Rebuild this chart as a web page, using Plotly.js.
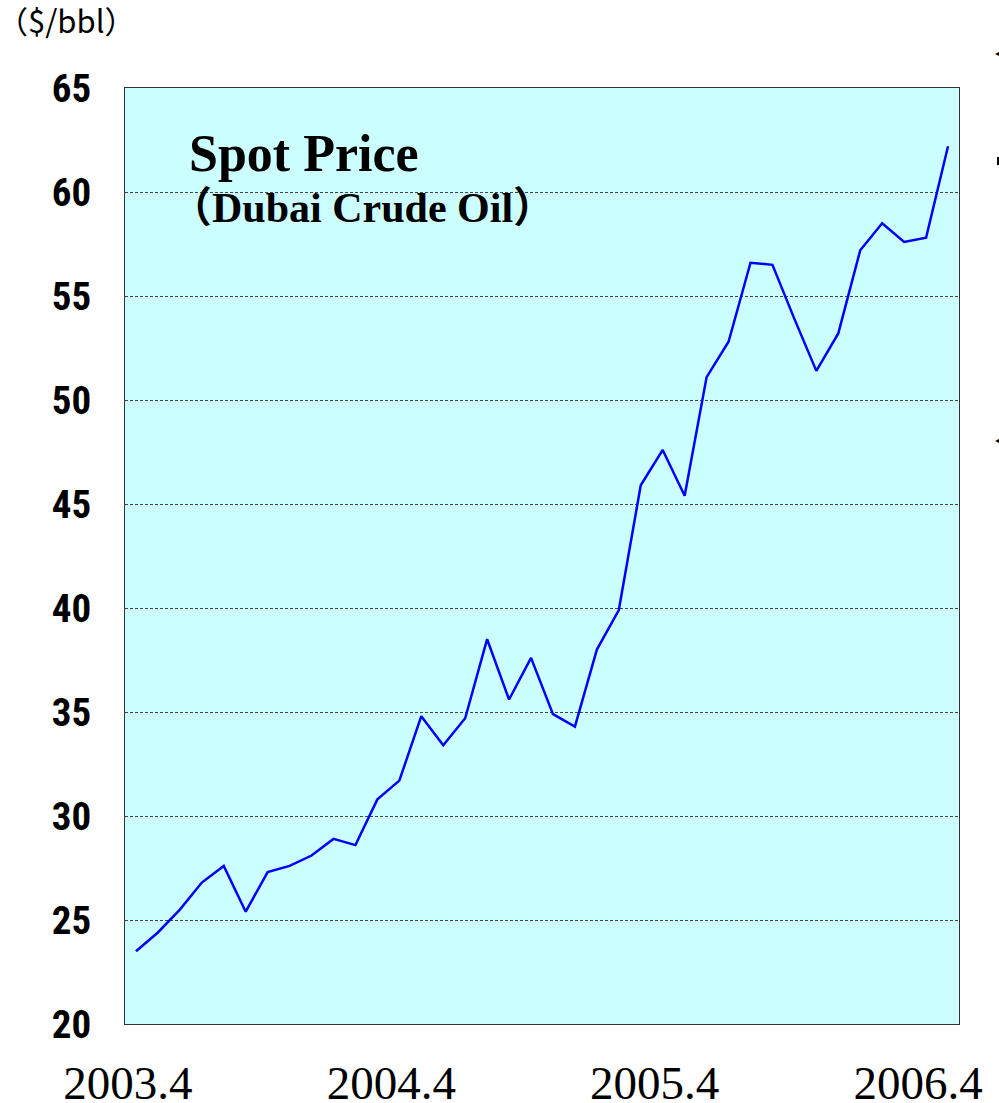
<!DOCTYPE html>
<html>
<head>
<meta charset="utf-8">
<script src="https://cdn.plot.ly/plotly-3.0.1.min.js"></script>
<style>
html,body{margin:0;padding:0;background:#fff;}
#chart{width:999px;height:1103px;}
#chart .ytick text{font-stretch:condensed;}
</style>
</head>
<body>
<div id="chart"></div>
<script>
// Monthly categories
var months = [
  "2003.4","2003.5","2003.6","2003.7","2003.8","2003.9","2003.10","2003.11","2003.12",
  "2004.1","2004.2","2004.3","2004.4","2004.5","2004.6","2004.7","2004.8","2004.9","2004.10","2004.11","2004.12",
  "2005.1","2005.2","2005.3","2005.4","2005.5","2005.6","2005.7","2005.8","2005.9","2005.10","2005.11","2005.12",
  "2006.1","2006.2","2006.3","2006.4","2006.5"
];
// Dubai crude oil spot price ($/bbl)
var dubaiPrice = [
  23.5, 24.4, 25.5, 26.8, 27.6, 25.4, 27.3, 27.6, 28.1,
  28.9, 28.6, 30.8, 31.7, 34.8, 33.4, 34.7, 38.5, 35.6, 37.6, 34.9, 34.3,
  38.0, 39.9, 45.9, 47.6, 45.4, 51.1, 52.8, 56.6, 56.5, 53.9, 51.4, 53.2,
  57.2, 58.5, 57.6, 57.8, 62.2
];
// Tick labels shown on the x axis
var xTickLabels = ["2003.4","2004.4","2005.4","2006.4"];
var yTickValues = [20, 25, 30, 35, 40, 45, 50, 55, 60, 65];

var trace = {
  x: months,
  y: dubaiPrice,
  type: 'scatter',
  mode: 'lines',
  line: {color: '#0000FF', width: 2.5},
  hoverinfo: 'x+y'
};

var layout = {
  width: 999,
  height: 1103,
  margin: {l: 125, r: 40, t: 88, b: 79},
  paper_bgcolor: '#FFFFFF',
  plot_bgcolor: '#CCFFFF',
  showlegend: false,
  xaxis: {
    type: 'category',
    range: [-0.5, months.length - 0.5],
    tickmode: 'array',
    tickvals: xTickLabels,
    ticktext: xTickLabels,
    ticks: '',
    showgrid: false,
    zeroline: false,
    showline: true,
    mirror: true,
    linecolor: '#333333',
    linewidth: 1,
    tickangle: 0,
    ticklabeloverflow: 'allow',
    ticklabelstandoff: 18,
    ticklabelshift: -8,
    tickfont: {family: 'Liberation Serif, Times New Roman, serif', size: 47, color: '#000000'},
    fixedrange: true
  },
  yaxis: {
    range: [20, 65],
    tickmode: 'array',
    tickvals: yTickValues,
    ticktext: yTickValues.map(String),
    ticks: '',
    showgrid: true,
    gridcolor: '#444444',
    gridwidth: 1,
    griddash: '3px,2px',
    zeroline: false,
    showline: true,
    mirror: true,
    linecolor: '#333333',
    linewidth: 1,
    ticklabelstandoff: 25,
    tickfont: {family: 'Roboto Condensed, Liberation Sans Narrow, Noto Sans, sans-serif', size: 39, color: '#000000', weight: 'bold'},
    fixedrange: true
  },
  shapes: [
    {type: 'rect', xref: 'paper', yref: 'paper',
     x0: (997 - 125) / 834, x1: (1003 - 125) / 834,
     y0: 1 - (165 - 88) / 936, y1: 1 - (157 - 88) / 936,
     line: {width: 0}, fillcolor: '#000000'}
  ],
  annotations: [
    {
      xref: 'paper', yref: 'paper', x: 0.074, y: 0.9295,
      xanchor: 'left', yanchor: 'middle', showarrow: false,
      text: 'Spot Price',
      font: {family: 'Liberation Serif, Times New Roman, serif', size: 52, color: '#000000', weight: 'bold'}
    },
    {
      xref: 'paper', yref: 'paper', x: 0.0512, y: 0.872,
      xanchor: 'left', yanchor: 'middle', showarrow: false,
      text: '（Dubai Crude Oil）',
      font: {family: 'Liberation Serif, Noto Sans CJK JP, serif', size: 42, color: '#000000', weight: 'bold'}
    },
    {
      xref: 'paper', yref: 'paper', x: (-5 - 125) / 834, y: 1 + (88 - 19) / 936,
      xanchor: 'left', yanchor: 'middle', showarrow: false,
      text: '（$/bbl）',
      font: {family: 'Noto Sans CJK JP, sans-serif', size: 31, color: '#000000'}
    },
    {
      xref: 'paper', yref: 'paper', x: (993 - 125) / 834, y: 1 + (88 - 53) / 936,
      xanchor: 'left', yanchor: 'middle', showarrow: false,
      text: '◀', font: {family: 'DejaVu Sans', size: 12, color: '#000000'}
    },
    {
      xref: 'paper', yref: 'paper', x: (993 - 125) / 834, y: 1 - (440 - 88) / 936,
      xanchor: 'left', yanchor: 'middle', showarrow: false,
      text: '◀', font: {family: 'DejaVu Sans', size: 12, color: '#000000'}
    }
  ]
};

Plotly.newPlot('chart', [trace], layout, {displayModeBar: false, staticPlot: true});
</script>
</body>
</html>
